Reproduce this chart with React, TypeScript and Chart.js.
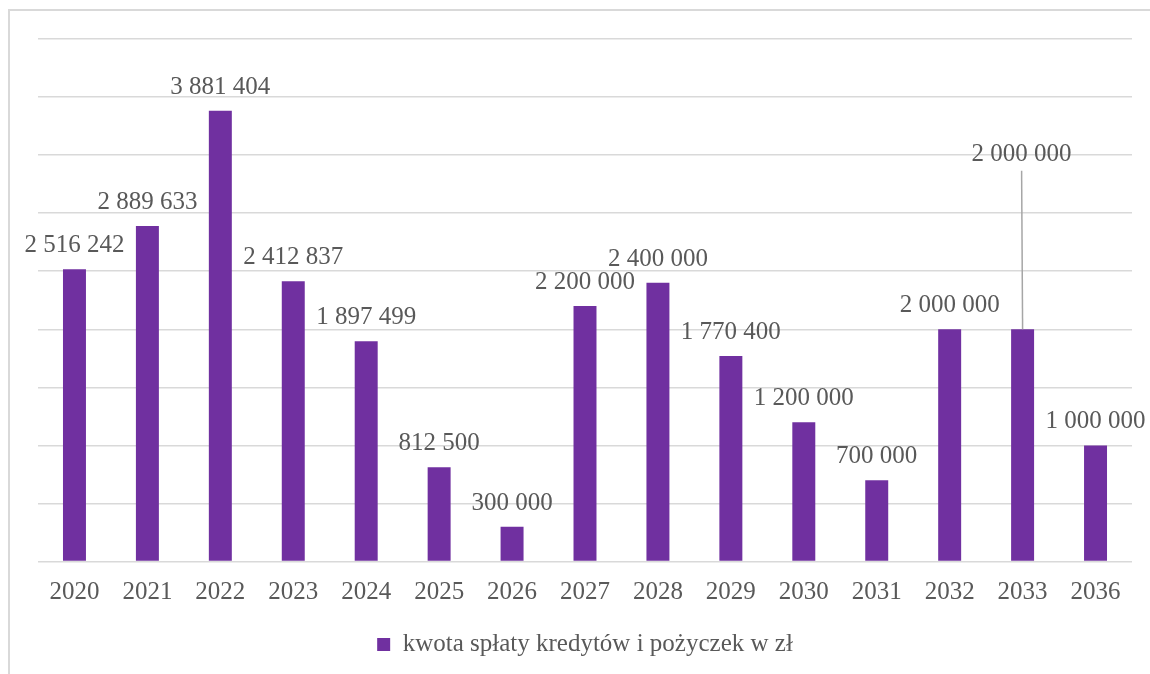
import React, { useEffect, useRef } from "react";
import { Chart, registerables } from "chart.js";

Chart.register(...registerables);

const categories = ["2020", "2021", "2022", "2023", "2024", "2025", "2026", "2027", "2028", "2029", "2030", "2031", "2032", "2033", "2036"];
const repayments = [2516242, 2889633, 3881404, 2412837, 1897499, 812500, 300000, 2200000, 2400000, 1770400, 1200000, 700000, 2000000, 2000000, 1000000];
const seriesLabel = "kwota spłaty kredytów i pożyczek w zł";
const yMax = 4500000;
const yStep = 500000;

const FONT = "'Liberation Serif', 'Times New Roman', serif";
const TEXT = "#595959";
const BAR = "#7030A0";
const GRID = "#D9D9D9";

const fmt = (v: number) => String(v).replace(/\B(?=(\d{3})+(?!\d))/g, " ");

const labelPlugin = {
  id: "barLabels",
  afterDatasetsDraw(chart: any) {
    const ctx = chart.ctx;
    const meta = chart.getDatasetMeta(0);
    const yScale = chart.scales.y;
    ctx.save();
    ctx.font = `25px ${FONT}`;
    ctx.fillStyle = TEXT;
    ctx.textAlign = "center";
    ctx.textBaseline = "alphabetic";
    meta.data.forEach((bar: any, i: number) => {
      const v = chart.data.datasets[0].data[i];
      const text = fmt(v);
      if (i === 13) {
        // label moved up with a leader line
        const ly = yScale.getPixelForValue(3520000);
        ctx.fillText(text, bar.x - 1, ly + 8);
        ctx.save();
        ctx.strokeStyle = "#A6A6A6";
        ctx.lineWidth = 1.5;
        ctx.beginPath();
        ctx.moveTo(bar.x - 1, ly + 18);
        ctx.lineTo(bar.x, bar.y);
        ctx.stroke();
        ctx.restore();
      } else {
        ctx.fillText(text, bar.x, bar.y - 17);
      }
    });
    ctx.restore();
  },
};

export default function App() {
  const ref = useRef<HTMLCanvasElement | null>(null);
  useEffect(() => {
    if (!ref.current) return;
    const chart = new Chart(ref.current, {
      type: "bar",
      data: {
        labels: categories,
        datasets: [
          {
            label: seriesLabel,
            data: repayments,
            backgroundColor: BAR,
            borderWidth: 0,
            categoryPercentage: 1,
            barPercentage: 0.315,
          },
        ],
      },
      options: {
        responsive: false,
        animation: false,
        layout: { padding: { left: 38, right: 18, top: 39, bottom: 7 } },
        scales: {
          x: {
            grid: { display: false, drawTicks: false },
            border: { display: false },
            ticks: { color: TEXT, font: { family: FONT, size: 25 }, padding: 16, maxRotation: 0 },
            afterFit: (s: any) => {
              s.height = 60.5;
            },
          },
          y: {
            min: 0,
            max: yMax,
            ticks: { display: false, stepSize: yStep },
            grid: { color: GRID, lineWidth: 1.5, drawTicks: false },
            border: { display: false },
            afterFit: (s: any) => {
              s.width = 0;
            },
          },
        },
        plugins: {
          legend: {
            position: "bottom",
            labels: {
              color: TEXT,
              font: { family: FONT, size: 25 },
              boxWidth: 13,
              boxHeight: 13,
              padding: 10,
            },
          },
          tooltip: { enabled: false },
        },
      },
      plugins: [labelPlugin],
    });
    return () => chart.destroy();
  }, []);

  return (
    <div style={{ position: "fixed", left: 0, top: 0, width: 1150, height: 674, background: "#fff", overflow: "hidden" }}>
      <div
        style={{
          position: "absolute",
          left: 8,
          top: 9,
          width: 1150,
          height: 700,
          border: `2px solid ${GRID}`,
          boxSizing: "border-box",
        }}
      />
      <canvas ref={ref} width={1150} height={674} style={{ position: "absolute", left: 0, top: 0 }} />
    </div>
  );
}
